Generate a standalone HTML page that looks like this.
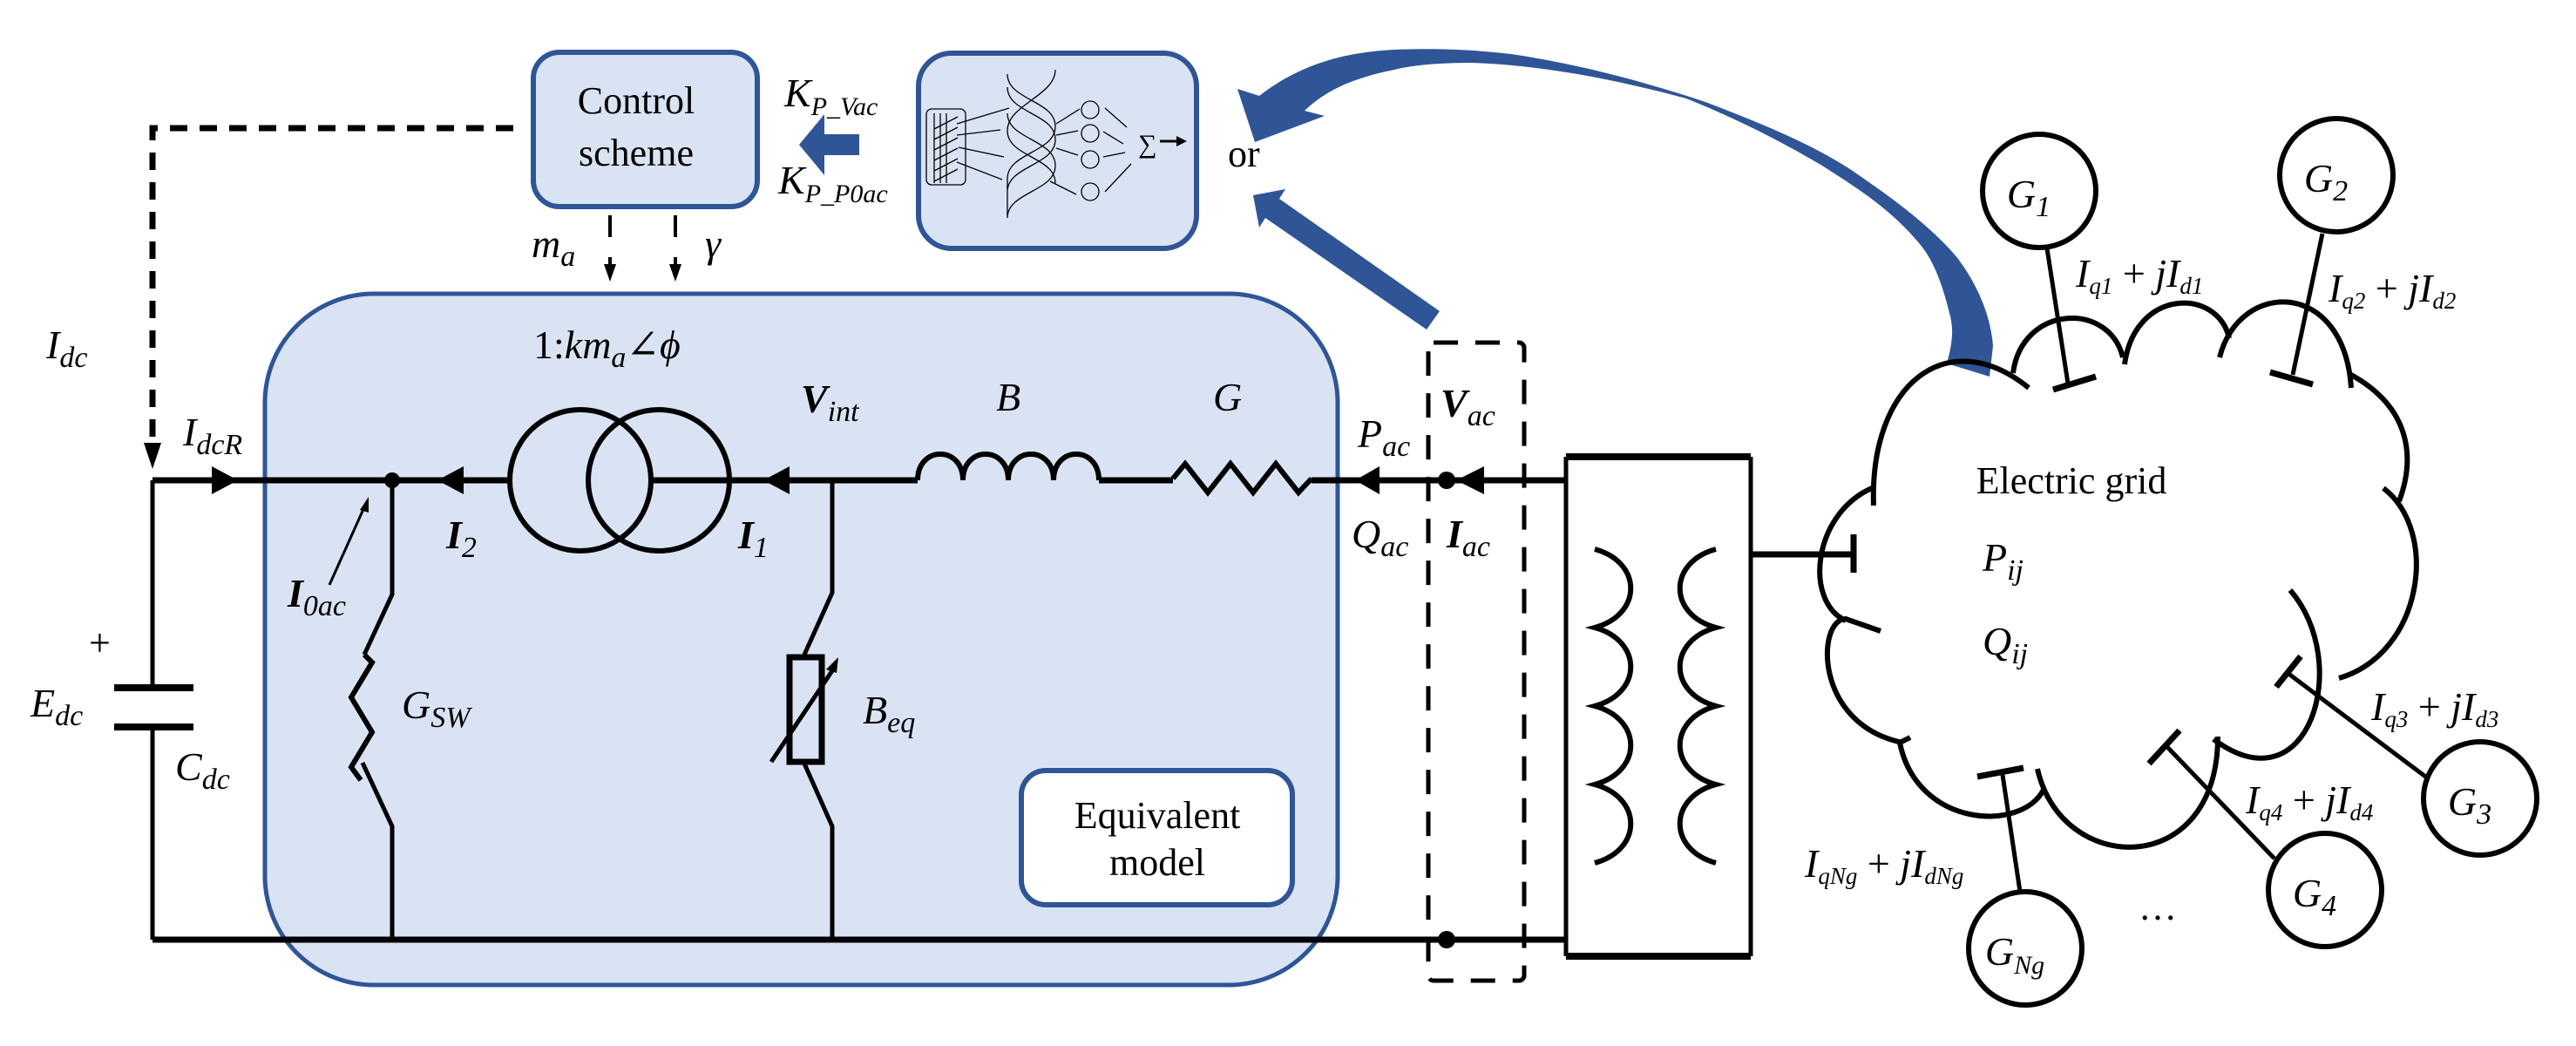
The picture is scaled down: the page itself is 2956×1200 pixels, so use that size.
<!DOCTYPE html>
<html><head><meta charset="utf-8"><style>
html,body{margin:0;padding:0;background:#fff}
svg{display:block}
text{font-family:"Liberation Serif","DejaVu Serif",serif;fill:#000}
.m{font-style:italic;font-size:46px}
.s{font-size:44px}
</style></head><body>
<svg width="2956" height="1200" viewBox="0 0 2956 1200" xmlns="http://www.w3.org/2000/svg" font-family="'Liberation Serif', 'DejaVu Serif', serif">
<!-- equivalent model box -->
<rect x="304" y="337" width="1231" height="793" rx="125" ry="125" fill="#dae3f3" stroke="#2f5597" stroke-width="5"/>
<rect x="1172" y="884" width="311" height="154" rx="28" fill="#fff" stroke="#2f5597" stroke-width="6"/>
<text class="s" x="1328" y="950" text-anchor="middle" font-size="40">Equivalent</text>
<text class="s" x="1328" y="1004" text-anchor="middle" font-size="40">model</text>
<!-- control scheme -->
<rect x="612" y="60" width="257" height="177" rx="30" fill="#dae3f3" stroke="#2f5597" stroke-width="6"/>
<text class="s" x="730" y="130" text-anchor="middle" font-size="42">Control</text>
<text class="s" x="730" y="190" text-anchor="middle" font-size="42">scheme</text>
<!-- NN box -->
<rect x="1054" y="61" width="319" height="224" rx="38" fill="#dae3f3" stroke="#2f5597" stroke-width="6"/>
<g stroke="#000" stroke-width="1.3" fill="none">
<rect x="1063" y="125" width="45" height="87" rx="6"/>
<path d="M1072,130v80M1079,130v80M1086,130v80M1072,148l27,-14M1072,160l27,-14M1072,172l27,-14M1072,184l27,-14M1072,196l27,-14M1072,208l27,-14"/>
<path d="M1098,142l60,-18M1098,155l50,-6M1100,169l52,11M1098,186l52,20"/>
<path d="M1156,85c0,30 55,30 55,60c0,30 -55,30 -55,60c0,20 0,35 0,45M1156,100c0,30 55,30 55,60c0,30 -55,30 -55,60M1156,130c0,30 55,30 55,60c0,30 -55,30 -55,60M1211,80c0,30 -55,40 -55,70c0,30 55,30 55,60"/>
<circle cx="1251" cy="126" r="10"/><circle cx="1251" cy="153" r="10"/><circle cx="1251" cy="183" r="10"/><circle cx="1251" cy="220" r="10"/>
<path d="M1212,142l27,-17M1212,155l25,-5M1212,170l25,8M1205,208l30,15M1268,124l25,22M1266,151l23,14M1266,180l25,-5M1268,220l30,-32"/>
</g>
<text x="1306" y="175" font-size="30">∑</text>
<path d="M1331,162h20" stroke="#000" stroke-width="3"/><path d="M1362,162l-12,-6v12z"/>
<!-- K labels and arrow -->
<text class="m" x="900" y="122" font-size="40">K<tspan font-size="30" dy="10">P_Vac</tspan></text>
<text class="m" x="893" y="222" font-size="40">K<tspan font-size="30" dy="10">P_P0ac</tspan></text>
<path d="M986,154v24h-40v23l-29,-35l29,-35v23z" fill="#2f5597"/>
<text class="s" x="1409" y="191" font-size="44">or</text>
<!-- blue arrows -->
<path d="M1420,102 L1445,110 C1490,75 1540,60 1600,57 C1650,55 1690,57 1734,62 C1820,75 1890,95 1957,117 C2030,145 2090,170 2136,203 C2190,240 2225,270 2247,297 C2275,335 2285,370 2287,397 L2283,432 L2234,417 C2240,395 2242,380 2238,363 C2230,330 2220,300 2203,280 C2170,240 2130,215 2091,190 C2040,160 1990,135 1935,113 C1850,90 1770,75 1689,72 C1650,72 1620,75 1600,80 C1550,90 1520,105 1497,127 L1520,133 L1440,163 Z" fill="#2f5597"/>
<path d="M1438,224 L1475,217 L1468,228 L1652,357 L1637,378 L1452,250 L1445,261 Z" fill="#2f5597"/>
<!-- dashed control -->
<g stroke="#000" stroke-width="7" fill="none" stroke-dasharray="20,14">
<path d="M589,147H175V510"/>
</g>
<path d="M175,538l-10,-30h20z"/>
<g stroke="#000" stroke-width="4">
<path d="M700,247v25M775,247v25M700,295v10M775,295v10"/>
</g>
<path d="M700,323l-7,-20h14zM775,323l-7,-20h14z"/>
<text class="m" x="610" y="295">m<tspan font-size="34" dy="10">a</tspan></text>
<text class="m" x="809" y="295">γ</text>
<!-- labels -->
<text class="m" x="53" y="411">I<tspan font-size="34" dy="10">dc</tspan></text>
<text class="m" x="210" y="511">I<tspan font-size="34" dy="10">dcR</tspan></text>
<text class="m" x="612" y="411"><tspan font-style="normal">1:</tspan>km<tspan font-size="34" dy="10">a</tspan><tspan dy="-10">∠ϕ</tspan></text>
<text class="m" x="919" y="473" font-weight="bold">V<tspan font-size="34" dy="10" font-weight="normal">int</tspan></text>
<text class="m" x="1143" y="471">B</text>
<text class="m" x="1392" y="471">G</text>
<text class="m" x="1558" y="513">P<tspan font-size="34" dy="10">ac</tspan></text>
<text class="m" x="1653" y="478" font-weight="bold">V<tspan font-size="34" dy="10" font-weight="normal">ac</tspan></text>
<text class="m" x="1551" y="628">Q<tspan font-size="34" dy="10">ac</tspan></text>
<text class="m" x="1660" y="628" font-weight="bold">I<tspan font-size="34" dy="10" font-weight="normal">ac</tspan></text>
<text class="m" x="512" y="629" font-weight="bold">I<tspan font-size="34" dy="10" font-weight="normal">2</tspan></text>
<text class="m" x="847" y="629" font-weight="bold">I<tspan font-size="34" dy="10" font-weight="normal">1</tspan></text>
<text class="m" x="330" y="696" font-weight="bold">I<tspan font-size="34" dy="10" font-weight="normal">0ac</tspan></text>
<text class="s" x="102" y="752" font-size="48">+</text>
<text class="m" x="35" y="822">E<tspan font-size="34" dy="10">dc</tspan></text>
<text class="m" x="201" y="895">C<tspan font-size="34" dy="10">dc</tspan></text>
<text class="m" x="461" y="824">G<tspan font-size="34" dy="10">SW</tspan></text>
<text class="m" x="990" y="830">B<tspan font-size="34" dy="10">eq</tspan></text>
<!-- circuit -->
<g stroke="#000" fill="none" stroke-linecap="butt">
<path d="M175,551H584M748,551H1053M1261,551H1346M1505,551H1797" stroke-width="7"/>
<path d="M175,1078H1797" stroke-width="7"/>
<path d="M1053,551c0,-40 52,-40 52,0c0,-40 52,-40 52,0c0,-40 52,-40 52,0c0,-40 52,-40 52,0" stroke-width="6"/>
<path d="M1346,549l14,-17l26,33l26,-33l26,33l26,-33l26,33l15,-16" stroke-width="6" stroke-linejoin="miter"/>
<circle cx="666" cy="551" r="81" stroke-width="6"/>
<circle cx="756" cy="551" r="81" stroke-width="6"/>
<path d="M175,551V789M175,834V1078" stroke-width="5"/>
<path d="M131,789H222M131,834H222" stroke-width="8"/>
<path d="M450,551V682L418,751" stroke-width="5"/>
<path d="M418,751l9,9l-24,40l24,40l-24,40l11,15" stroke-width="6"/>
<path d="M416,875L450,948V1078" stroke-width="5"/>
<path d="M955,551V680L923,751M923,876L955,948V1078" stroke-width="5"/>
<rect x="906" y="754" width="37" height="120" stroke-width="7"/>
<path d="M885,874L958,765" stroke-width="5"/>
<path d="M378,671L418,582" stroke-width="3"/>
<path d="M1797,524H2009M1797,1097H2009" stroke-width="8"/>
<path d="M1797,524V1097M2009,524V1097" stroke-width="5"/>
<path d="M1830,630c55,15 55,75 0,90c55,15 55,75 0,90c55,15 55,75 0,90c55,15 55,75 0,90" stroke-width="6"/>
<path d="M1969,630c-55,15 -55,75 0,90c-55,15 -55,75 0,90c-55,15 -55,75 0,90c-55,15 -55,75 0,90" stroke-width="6"/>
<path d="M2009,636H2127" stroke-width="7"/><path d="M2127,613V657" stroke-width="7"/>
</g>
<path d="M962,754l-14,14l12,4z"/>
<path d="M423,570l-10,15l10,3z"/>
<path d="M273,551l-30,-16v32z"/>
<path d="M502,551l30,-16v32z"/>
<path d="M876,551l30,-16v32z"/>
<path d="M1555,551l28,-16v32z"/>
<path d="M1671,551l32,-16v32z"/>
<circle cx="450" cy="551" r="9"/>
<circle cx="1660" cy="551" r="10"/>
<circle cx="1660" cy="1078" r="10"/>
<!-- dashed Vac box -->
<rect x="1639" y="393" width="110" height="732" rx="6" fill="none" stroke="#000" stroke-width="5" stroke-dasharray="28,20"/>
<!-- cloud -->
<g stroke="#000" stroke-width="6" fill="none">
<path d="M2150,580C2145,440 2235,370 2328,445"/>
<path d="M2310,428C2320,350 2420,345 2436,410"/>
<path d="M2438,418C2450,330 2545,330 2558,388"/>
<path d="M2547,410C2570,320 2690,320 2698,445"/>
<path d="M2698,430C2770,470 2770,530 2753,575"/>
<path d="M2735,560C2800,610 2780,750 2684,778"/>
<path d="M2628,677C2700,760 2650,930 2540,848"/>
<path d="M2545,845C2545,1010 2365,1005 2338,882"/>
<path d="M2345,906C2320,955 2200,950 2180,852L2192,846"/>
<path d="M2183,852C2080,830 2085,710 2118,710L2158,724"/>
<path d="M2118,712C2070,690 2080,590 2148,560"/>
</g>
<text class="s" x="2377" y="566" text-anchor="middle" font-size="42">Electric grid</text>
<text class="m" x="2275" y="655">P<tspan font-size="34" dy="10">ij</tspan></text>
<text class="m" x="2275" y="751">Q<tspan font-size="34" dy="10">ij</tspan></text>
<!-- generators -->
<g stroke="#000" stroke-width="6" fill="#fff">
<circle cx="2340" cy="219" r="65"/><circle cx="2681" cy="201" r="65"/>
<circle cx="2846" cy="916" r="65"/><circle cx="2668" cy="1021" r="65"/><circle cx="2324" cy="1088" r="65"/>
</g>
<g stroke="#000" stroke-width="5" fill="none">
<path d="M2349,285L2373,440"/><path d="M2356,447L2405,432" stroke-width="7"/>
<path d="M2665,268L2631,430"/><path d="M2605,427L2654,441" stroke-width="7"/>
<path d="M2786,893L2625,772"/><path d="M2612,788L2640,753" stroke-width="7"/>
<path d="M2610,985L2487,857"/><path d="M2466,876L2501,838" stroke-width="7"/>
<path d="M2318,1023L2298,889"/><path d="M2269,891L2322,881" stroke-width="7"/>
</g>
<g text-anchor="middle">
<text class="m" x="2328" y="238">G<tspan font-size="34" dy="10">1</tspan></text>
<text class="m" x="2669" y="220">G<tspan font-size="34" dy="10">2</tspan></text>
<text class="m" x="2834" y="935">G<tspan font-size="34" dy="10">3</tspan></text>
<text class="m" x="2656" y="1040">G<tspan font-size="34" dy="10">4</tspan></text>
<text class="m" x="2312" y="1107">G<tspan font-size="30" dy="10">Ng</tspan></text>
</g>
<text class="m" x="2382" y="329" font-size="36">I<tspan font-size="27" dy="8">q1</tspan><tspan dy="-8" font-style="normal"> + </tspan>jI<tspan font-size="27" dy="8">d1</tspan></text>
<text class="m" x="2672" y="346" font-size="36">I<tspan font-size="27" dy="8">q2</tspan><tspan dy="-8" font-style="normal"> + </tspan>jI<tspan font-size="27" dy="8">d2</tspan></text>
<text class="m" x="2721" y="826" font-size="36">I<tspan font-size="27" dy="8">q3</tspan><tspan dy="-8" font-style="normal"> + </tspan>jI<tspan font-size="27" dy="8">d3</tspan></text>
<text class="m" x="2577" y="933" font-size="36">I<tspan font-size="27" dy="8">q4</tspan><tspan dy="-8" font-style="normal"> + </tspan>jI<tspan font-size="27" dy="8">d4</tspan></text>
<text class="m" x="2071" y="1006" font-size="36">I<tspan font-size="27" dy="8">qNg</tspan><tspan dy="-8" font-style="normal"> + </tspan>jI<tspan font-size="27" dy="8">dNg</tspan></text>
<text class="s" x="2454" y="1055" font-size="40">…</text>
</svg>
</body></html>
